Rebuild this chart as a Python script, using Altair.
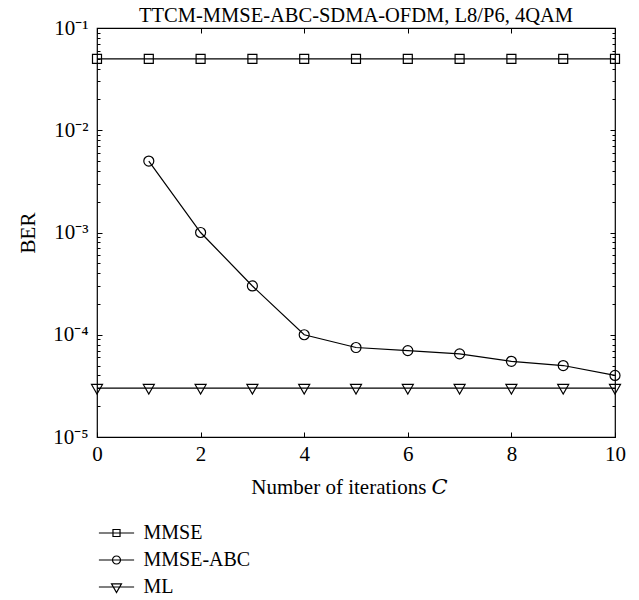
import altair as alt
import pandas as pd

# ---------------- data ----------------
title_text = "TTCM-MMSE-ABC-SDMA-OFDM, L8/P6, 4QAM"
x_title = "Number of iterations 𝐶"
y_title = "BER"

series_names = ["MMSE", "MMSE-ABC", "ML"]

mmse_iter = [0, 1, 2, 3, 4, 5, 6, 7, 8, 9, 10]
mmse_ber = [0.05, 0.05, 0.05, 0.05, 0.05, 0.05, 0.05, 0.05, 0.05, 0.05, 0.05]

mmse_abc_iter = [1, 2, 3, 4, 5, 6, 7, 8, 9, 10]
mmse_abc_ber = [5e-3, 1e-3, 3e-4, 1e-4, 7.5e-5, 7e-5, 6.5e-5, 5.5e-5, 5e-5, 4e-5]

ml_iter = [0, 1, 2, 3, 4, 5, 6, 7, 8, 9, 10]
ml_ber = [3e-5, 3e-5, 3e-5, 3e-5, 3e-5, 3e-5, 3e-5, 3e-5, 3e-5, 3e-5, 3e-5]

x_tick_values = [0, 2, 4, 6, 8, 10]
y_major_values = [1e-5, 1e-4, 1e-3, 1e-2, 1e-1]
y_major_labels = ["10⁻⁵", "10⁻⁴", "10⁻³", "10⁻²", "10⁻¹"]
y_minor_mantissas = [2, 3, 4, 5, 6, 7, 8, 9]
y_minor_values = [m * d for d in y_major_values[:-1] for m in y_minor_mantissas]

# ---------------- table ----------------
rows = []
for name, xs, ys in [("MMSE", mmse_iter, mmse_ber),
                     ("MMSE-ABC", mmse_abc_iter, mmse_abc_ber),
                     ("ML", ml_iter, ml_ber)]:
    for xv, yv in zip(xs, ys):
        rows.append({"series": name, "iter": xv, "ber": yv})
df = pd.DataFrame(rows)

FONT = "Liberation Serif"
FONT_C = "Liberation Serif, DejaVu Serif"
FS = 21
FS_TITLE = 20.5
FS_LEG = 20

x_scale = alt.Scale(domain=[0, 10], nice=False, zero=False)
y_scale = alt.Scale(type="log", domain=[1e-5, 1e-1], nice=False)

# marker shapes (plot) and legend symbols (line + marker)
marker_paths = [
    "M-0.9,-0.9H0.9V0.9H-0.9Z",
    "M-1,0A1,1,0,1,0,1,0A1,1,0,1,0,-1,0",
    "M-1.1,-0.75H1.1L0,1.15Z",
]
legend_paths = [
    "M-2.2,0H2.2M-0.44,-0.44H0.44V0.44H-0.44Z",
    "M-2.2,0H2.2M-0.5,0A0.5,0.5,0,1,0,0.5,0A0.5,0.5,0,1,0,-0.5,0",
    "M-2.2,0H2.2M-0.62,-0.4H0.62L0,0.68Z",
]

label_expr = " : ".join(
    f"datum.value == {v!r} ? '{l}'" for v, l in zip(y_major_values, y_major_labels)
) + " : ''"


def tick_axis(orient, values, size):
    return alt.Axis(orient=orient, values=values, tickSize=size, offset=-size,
                    labels=False, domain=False, grid=False, title=None,
                    ticks=True, tickColor="black", tickWidth=1)


x_label_axis = alt.Axis(orient="bottom", values=x_tick_values, ticks=False, tickSize=0,
                        domain=False, grid=False, title=x_title, labelFont=FONT,
                        labelFontSize=FS, labelColor="black", labelPadding=6,
                        titleFont=FONT_C, titleFontSize=FS, titleFontWeight="normal",
                        titleColor="black", titlePadding=12, titleX=252,
                        labelFlush=False)
y_label_axis = alt.Axis(orient="left", values=y_major_values, ticks=False, tickSize=0,
                        domain=False, grid=False, title=y_title, labelFont=FONT,
                        labelFontSize=FS, labelColor="black", labelPadding=9,
                        labelExpr=label_expr, titleFont=FONT, titleFontSize=FS,
                        titleFontWeight="normal", titleColor="black", titlePadding=14,
                        labelFlush=False)


def enc(xaxis, yaxis):
    return dict(
        x=alt.X("iter:Q", scale=x_scale, axis=xaxis),
        y=alt.Y("ber:Q", scale=y_scale, axis=yaxis),
    )


lines = alt.Chart(df).mark_line(color="black", strokeWidth=1.2).encode(
    **enc(x_label_axis, y_label_axis), detail="series:N"
)

points = alt.Chart(df).mark_point(filled=False, color="black", opacity=1,
                                  strokeWidth=1.2, size=100).encode(
    **enc(tick_axis("bottom", x_tick_values, 5), tick_axis("left", y_major_values, 5)),
    shape=alt.Shape("series:N", scale=alt.Scale(domain=series_names, range=marker_paths),
                    legend=None),
)

legend_layer = alt.Chart(df).transform_filter("datum.ber < 0").mark_point(
    filled=False, color="black", opacity=1, strokeWidth=1.2
).encode(
    **enc(tick_axis("top", x_tick_values, 5), tick_axis("right", y_major_values, 5)),
    shape=alt.Shape(
        "series:N",
        scale=alt.Scale(domain=series_names, range=legend_paths),
        legend=alt.Legend(orient="none", legendX=9.5, legendY=495, direction="vertical",
                          symbolSize=256, symbolStrokeWidth=1.2,
                          symbolFillColor="transparent", symbolStrokeColor="black",
                          labelFont=FONT, labelFontSize=FS_LEG, labelColor="black",
                          labelOffset=17, rowPadding=7, padding=0, title=None),
    ),
)

minor_left = alt.Chart(df).transform_filter("datum.ber < 0").mark_point(opacity=0).encode(
    **enc(None, tick_axis("left", y_minor_values, 3))
)
minor_right = alt.Chart(df).transform_filter("datum.ber < 0").mark_point(opacity=0).encode(
    **enc(None, tick_axis("right", y_minor_values, 3))
)

chart = alt.layer(lines, points, legend_layer, minor_left, minor_right).resolve_scale(
    shape="independent"
).resolve_axis(x="independent", y="independent").properties(
    width=518, height=409,
    autosize=alt.AutoSizeParams(type="none"),
    padding={"left": 89, "top": 20, "right": 16, "bottom": 170},
    title=alt.TitleParams(title_text, font=FONT, fontSize=FS_TITLE, fontWeight="normal",
                          color="black", anchor="middle", offset=0, baseline="alphabetic",
                          dy=25),
).configure_view(stroke="black", strokeWidth=1.2)

chart.save("out.html", embed_options={"renderer": "svg", "actions": False})
